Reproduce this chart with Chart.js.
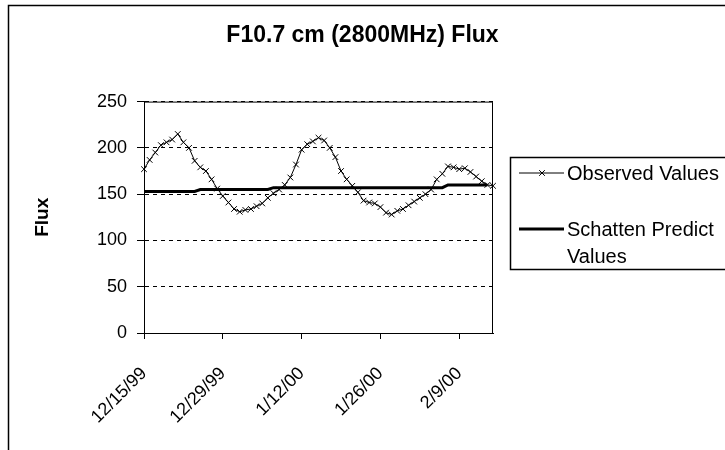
<!DOCTYPE html>
<html>
<head>
<meta charset="utf-8">
<script src="https://cdn.jsdelivr.net/npm/chart.js@4.4.1/dist/chart.umd.min.js"></script>
<style>
  html, body { margin: 0; padding: 0; background: #fff; }
  #wrap { width: 725px; height: 450px; }
</style>
</head>
<body>
<div id="wrap"><canvas id="fluxChart" width="725" height="450"></canvas></div>
<script>
// daily dates, 12/15/99 .. 2/15/00
const dates = [
  '12/15/99','12/16/99','12/17/99','12/18/99','12/19/99','12/20/99','12/21/99','12/22/99','12/23/99','12/24/99',
  '12/25/99','12/26/99','12/27/99','12/28/99','12/29/99','12/30/99','12/31/99',
  '1/1/00','1/2/00','1/3/00','1/4/00','1/5/00','1/6/00','1/7/00','1/8/00','1/9/00','1/10/00',
  '1/11/00','1/12/00','1/13/00','1/14/00','1/15/00','1/16/00','1/17/00','1/18/00','1/19/00','1/20/00',
  '1/21/00','1/22/00','1/23/00','1/24/00','1/25/00','1/26/00','1/27/00','1/28/00','1/29/00','1/30/00','1/31/00',
  '2/1/00','2/2/00','2/3/00','2/4/00','2/5/00','2/6/00','2/7/00','2/8/00','2/9/00','2/10/00',
  '2/11/00','2/12/00','2/13/00','2/14/00','2/15/00'
];

const tickLabels = ['12/15/99', '12/29/99', '1/12/00', '1/26/00', '2/9/00'];

const observed = [
  177, 187, 195, 203, 206, 209, 215, 206, 200, 186,
  179, 175, 166, 156, 148, 141, 134, 131, 133, 134,
  137, 140, 146, 151, 155, 160, 168, 182, 198, 204,
  207, 211, 208, 200, 190, 175, 166, 159, 152, 143,
  141, 140, 136, 130, 128, 132, 134, 138, 142, 146,
  150, 155, 166, 172, 180, 179, 177, 178, 174, 169,
  164, 160, 159
];

const predicted = [
  153, 153, 153, 153, 153, 153, 153, 153, 153, 153,
  155, 155, 155, 155, 155, 155, 155, 155, 155, 155, 155, 155, 155,
  157, 157, 157, 157, 157, 157, 157, 157, 157, 157,
  157, 157, 157, 157, 157, 157, 157, 157, 157, 157,
  157, 157, 157, 157, 157, 157, 157, 157, 157, 157, 157,
  160, 160, 160, 160, 160, 160, 160, 160
];

const yTicks = [0, 50, 100, 150, 200, 250];

const FONT = "'Liberation Sans', Arial, sans-serif";

// white page, outer frame, solid plot border
const framePlugin = {
  id: 'frame',
  beforeDraw(chart) {
    const ctx = chart.ctx;
    ctx.save();
    ctx.fillStyle = '#fff';
    ctx.fillRect(0, 0, chart.width, chart.height);
    ctx.strokeStyle = '#000';
    ctx.lineWidth = 1.5;
    ctx.strokeRect(8.5, 5.5, 800, 500);
    ctx.restore();
  },
  afterDatasetsDraw(chart) {
    const a = chart.chartArea;
    const ctx = chart.ctx;
    ctx.save();
    ctx.strokeStyle = '#000';
    ctx.lineWidth = 1;
    ctx.beginPath();
    ctx.moveTo(a.left, a.top + 0.5);
    ctx.lineTo(a.right - 0.5, a.top + 0.5);
    ctx.lineTo(a.right - 0.5, a.bottom);
    ctx.stroke();
    ctx.restore();
  }
};

// boxed legend to the right, second label wraps
const boxLegend = {
  id: 'boxLegend',
  afterDraw(chart) {
    const ctx = chart.ctx;
    const a = chart.chartArea;
    const bx = a.right + 17, by = 157, bh = 112;
    ctx.save();
    ctx.strokeStyle = '#000';
    ctx.lineWidth = 1.5;
    ctx.strokeRect(bx + 0.5, by + 0.5, 400, bh);

    ctx.font = '20px ' + FONT;
    ctx.fillStyle = '#000';
    ctx.textBaseline = 'middle';

    const ds = chart.data.datasets;
    // observed
    let y = 173;
    ctx.lineWidth = 1;
    ctx.beginPath();
    ctx.moveTo(bx + 9, y); ctx.lineTo(bx + 54, y);
    ctx.stroke();
    Chart.helpers.drawPoint(ctx, { pointStyle: 'crossRot', radius: 4, rotation: 0, borderWidth: 1 }, bx + 32, y);
    ctx.fillText(ds[0].label, bx + 57, y + 1);

    // predicted
    y = 229;
    ctx.lineWidth = 3;
    ctx.beginPath();
    ctx.moveTo(bx + 9, y); ctx.lineTo(bx + 54, y);
    ctx.stroke();
    ds[1].label.forEach((line, i) => ctx.fillText(line, bx + 57, y + 1 + i * 27));
    ctx.restore();
  }
};

const ctx = document.getElementById('fluxChart').getContext('2d');
new Chart(ctx, {
  type: 'line',
  data: {
    labels: dates,
    datasets: [
      {
        label: 'Observed Values',
        data: observed,
        borderColor: '#000',
        borderWidth: 1,
        pointStyle: 'crossRot',
        pointRadius: 4,
        pointBorderColor: '#000',
        pointBorderWidth: 1,
        tension: 0
      },
      {
        label: ['Schatten Predict', 'Values'],
        data: predicted,
        borderColor: '#000',
        borderWidth: 3,
        pointRadius: 0,
        tension: 0
      }
    ]
  },
  options: {
    responsive: false,
    animation: false,
    layout: { padding: 0 },
    plugins: {
      legend: { display: false },
      tooltip: { enabled: false },
      title: {
        display: true,
        text: 'F10.7 cm (2800MHz) Flux',
        color: '#000',
        font: { family: FONT, size: 23, weight: 'bold' },
        padding: { top: 22, bottom: 52 }
      }
    },
    scales: {
      x: {
        type: 'category',
        offset: false,
        afterFit(scale) { scale.height = 117; },
        grid: {
          drawOnChartArea: false,
          tickLength: 6,
          tickColor: c => tickLabels.includes(dates[c.index]) ? '#000' : 'rgba(0,0,0,0)'
        },
        border: { color: '#000', width: 1 },
        ticks: {
          autoSkip: false,
          minRotation: 45,
          maxRotation: 45,
          padding: 24,
          color: '#000',
          font: { family: FONT, size: 18 },
          callback: (v, i) => tickLabels.includes(dates[i]) ? dates[i] : ''
        }
      },
      y: {
        min: 0,
        max: 250,
        afterFit(scale) { scale.width = 144; },
        afterBuildTicks(scale) { scale.ticks = yTicks.map(v => ({ value: v })); },
        grid: {
          color: '#000',
          lineWidth: 1,
          tickLength: 7,
          tickColor: '#000',
          tickBorderDash: []
        },
        border: { color: '#000', width: 1, dash: [4, 4] },
        ticks: {
          padding: 10,
          color: '#000',
          font: { family: FONT, size: 18 }
        },
        title: {
          display: true,
          text: 'Flux',
          color: '#000',
          font: { family: FONT, size: 19, weight: 'bold' },
          padding: { top: 31, bottom: 0 }
        }
      },
      // empty right-hand block that leaves room for the legend box
      side: {
        position: 'right',
        display: true,
        afterFit(scale) { scale.width = 232; },
        grid: { display: false, drawTicks: false },
        border: { display: false },
        ticks: { display: false }
      }
    }
  },
  plugins: [framePlugin, boxLegend]
});
</script>
</body>
</html>
